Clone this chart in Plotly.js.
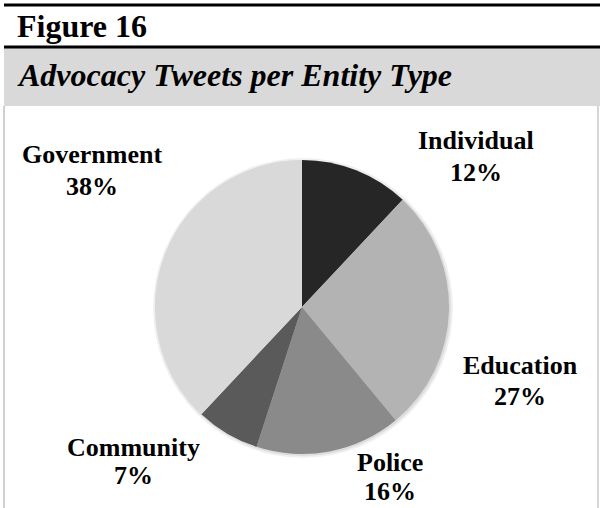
<!DOCTYPE html>
<html>
<head>
<meta charset="utf-8">
<script src="https://cdn.plot.ly/plotly-3.0.1.min.js"></script>
<style>html,body{margin:0;padding:0;background:#fff;}#chart{width:600px;height:508px;}</style>
</head>
<body>
<div id="chart"></div>
<script>
// Data
const categories = ["Individual", "Education", "Police", "Community", "Government"];
const shares = [12, 27, 16, 7, 38];
const figureLabel = "Figure 16";
const chartTitle = "Advocacy Tweets per Entity Type";

// Styles / layout (not data)
const sliceColors = ["#262626", "#b3b3b3", "#8a8a8a", "#5a5a5a", "#d9d9d9"];
const W = 600, H = 508;
const px = x => x / W;
const py = y => 1 - y / H;
// label line centers (px) per category: [x, line1 center y, line2 center y]
const labelPos = {
  "Individual": [476, 141, 172],
  "Education": [520, 365, 396],
  "Police": [390, 462, 491],
  "Community": [133, 447, 475],
  "Government": [92, 154, 186]
};
const serif = "Liberation Serif, Times New Roman, serif";

const cx = 302, cy = 307, r = 147;

const trace = {
  type: "pie",
  labels: categories,
  values: shares,
  sort: false,
  direction: "clockwise",
  rotation: 0,
  textinfo: "none",
  hoverinfo: "label+percent",
  marker: { colors: sliceColors, line: { width: 0 } },
  domain: { x: [px(cx - r), px(cx + r)], y: [py(cy + r), py(cy - r)] },
  showlegend: false
};

const annotations = [];
categories.forEach((c, i) => {
  const p = labelPos[c];
  annotations.push({
    xref: "paper", yref: "paper", x: px(p[0]), y: py(p[1]),
    xanchor: "center", yanchor: "middle", showarrow: false,
    text: "<b>" + c + "</b>",
    font: { family: serif, size: 26, color: "#000" }
  });
  annotations.push({
    xref: "paper", yref: "paper", x: px(p[0]), y: py(p[2]),
    xanchor: "center", yanchor: "middle", showarrow: false,
    text: "<b>" + shares[i] + "%</b>",
    font: { family: serif, size: 26, color: "#000" }
  });
});
annotations.push({
  xref: "paper", yref: "paper", x: px(15), y: py(26),
  xanchor: "left", yanchor: "middle", showarrow: false,
  text: "<b>" + figureLabel + "</b>",
  font: { family: serif, size: 32, color: "#000" }
});
annotations.push({
  xref: "paper", yref: "paper", x: px(15), y: py(75),
  xanchor: "left", yanchor: "middle", showarrow: false,
  text: "<b><i>" + chartTitle + "</i></b>",
  font: { family: serif, size: 32, color: "#000" }
});

const shapes = [
  // grey header band
  { type: "rect", xref: "paper", yref: "paper", x0: px(4), x1: 1, y0: py(106), y1: py(48),
    fillcolor: "#d9d9d9", line: { width: 0 }, layer: "below" },
  // top rule
  { type: "line", xref: "paper", yref: "paper", x0: px(4), x1: 1, y0: py(5), y1: py(5),
    line: { color: "#000", width: 3 } },
  // rule under Figure 16
  { type: "line", xref: "paper", yref: "paper", x0: px(4), x1: 1, y0: py(47), y1: py(47),
    line: { color: "#000", width: 3 } },
  // box borders
  { type: "line", xref: "paper", yref: "paper", x0: px(4), x1: px(4), y0: py(106), y1: 0,
    line: { color: "#d0d0d0", width: 2 } },
  { type: "line", xref: "paper", yref: "paper", x0: px(598), x1: px(598), y0: py(106), y1: 0,
    line: { color: "#d6d6d6", width: 2 } },
  // soft shadow
  { type: "circle", xref: "paper", yref: "paper", x0: px(cx - r - 2), x1: px(cx + r + 4), y0: py(cy + r + 4), y1: py(cy - r - 2),
    fillcolor: "rgba(0,0,0,0.06)", line: { width: 0 }, layer: "below" },
  { type: "circle", xref: "paper", yref: "paper", x0: px(cx - r), x1: px(cx + r + 2), y0: py(cy + r + 2), y1: py(cy - r),
    fillcolor: "rgba(0,0,0,0.08)", line: { width: 0 }, layer: "below" }
];

const layout = {
  width: W, height: H,
  margin: { l: 0, r: 0, t: 0, b: 0 },
  paper_bgcolor: "#fff",
  plot_bgcolor: "#fff",
  annotations: annotations,
  shapes: shapes
};

Plotly.newPlot("chart", [trace], layout, { displayModeBar: false, staticPlot: true });
</script>
</body>
</html>
